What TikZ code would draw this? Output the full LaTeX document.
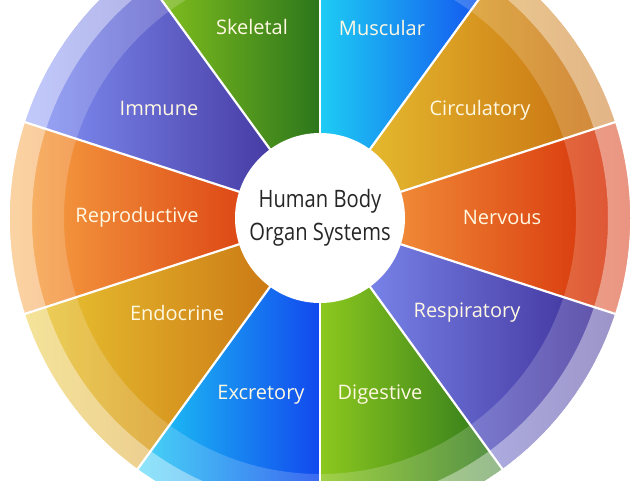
\documentclass[tikz,border=0pt]{standalone}
\usepackage{fontspec}
\setmainfont{Open Sans}
\newfontfamily\hubfont[FakeStretch=0.84]{Open Sans}

\definecolor{greenL}{HTML}{8CC81E}
\definecolor{greenR}{HTML}{2C761C}
\definecolor{blueL}{HTML}{1ECCF4}
\definecolor{blueR}{HTML}{1248EE}
\definecolor{yellowL}{HTML}{EAC834}
\definecolor{yellowR}{HTML}{C66A0E}
\definecolor{orangeL}{HTML}{F9AA48}
\definecolor{orangeR}{HTML}{D42804}
\definecolor{violetL}{HTML}{8494F8}
\definecolor{violetR}{HTML}{3A2A94}
\definecolor{labeltext}{HTML}{FFF8E2}

\begin{document}
\begin{tikzpicture}[x=1pt, y=1pt,
  organ/.style = {text=labeltext, font=\fontsize{20}{20}\selectfont},
  hub/.style = {circle, fill=white, minimum size=170pt, inner sep=0pt, align=center,
                text=black!85, font=\hubfont\fontsize{24}{33}\selectfont}]

\useasboundingbox (-320,-262) rectangle (320,218);
\clip (-320,-262) rectangle (320,218);

% wedges, clockwise from the top
\foreach \a/\cl/\cr in {90/blueL/blueR, 54/yellowL/yellowR, 18/orangeL/orangeR,
    -18/violetL/violetR, -54/greenL/greenR, -90/blueL/blueR, -126/yellowL/yellowR,
    -162/orangeL/orangeR, -198/violetL/violetR, -234/greenL/greenR}
  \shade[left color=\cl, right color=\cr] (0,0) -- (\a:310) arc[start angle=\a, end angle=\a-36, radius=310] -- cycle;

% pale outer rings
\fill[white, opacity=0.18, even odd rule] (0,0) circle (288) (0,0) circle (256);
\fill[white, opacity=0.5, even odd rule] (0,0) circle (310) (0,0) circle (288);

% white separators
\foreach \a in {90,54,...,-234}
  \draw[white, line width=2.2pt] (0,0) -- (\a:312);

\node[hub] (hub) at (0,0) {Human Body\\Organ Systems};

\node[organ] (skeletal) at (-68,191) {Skeletal};
\node[organ] (muscular) at (62,190) {Muscular};
\node[organ] (immune) at (-161,110) {Immune};
\node[organ] (circulatory) at (160,108) {Circulatory};
\node[organ] (reproductive) at (-183,1) {Reproductive};
\node[organ] (nervous) at (182,1) {Nervous};
\node[organ] (endocrine) at (-143,-95) {Endocrine};
\node[organ] (respiratory) at (147,-95) {Respiratory};
\node[organ] (excretory) at (-59,-177) {Excretory};
\node[organ] (digestive) at (60,-177) {Digestive};

\end{tikzpicture}
\end{document}
